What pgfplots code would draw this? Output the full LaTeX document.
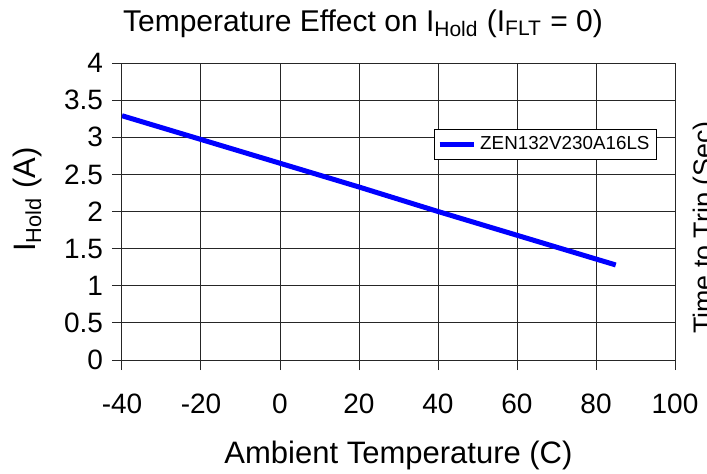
\documentclass[border=0pt]{standalone}
\usepackage{pgfplots}
\pgfplotsset{compat=1.18}
\usepackage{fontspec}
\setmainfont{Liberation Sans}

\begin{document}
\begin{tikzpicture}
\begin{axis}[
  scale only axis, width=276.5bp, height=148.5bp,
  xmin=-40, xmax=100, ymin=0, ymax=4,
  xtick={-40,-20,...,100}, ytick={0,0.5,...,4},
  grid=major, grid style={black!85, line width=0.5bp},
  axis line style={black!85, line width=0.5bp},
  tick style={black!85, line width=0.5bp},
  tick align=outside, major tick length=5bp,
  tick pos=left,
  /pgf/number format/assume math mode=true,
  ticklabel style={font=\fontsize{14bp}{16bp}\selectfont},
  xticklabel style={yshift=-8.5bp},
  yticklabel style={xshift=-1bp},
  title={Temperature Effect on I\textsubscript{Hold} (I\textsubscript{FLT} = 0)},
  title style={at={(axis description cs:0.4358,1.0673)}, anchor=base, font=\fontsize{15bp}{18bp}\selectfont},
  xlabel={Ambient Temperature (C)},
  xlabel style={at={(axis description cs:0.5,-0.3468)}, anchor=base, font=\fontsize{15.5bp}{18bp}\selectfont},
  ylabel={I\textsubscript{Hold} (A)},
  ylabel style={at={(axis description cs:-0.157,0.54)}, anchor=base, font=\fontsize{15.5bp}{18bp}\selectfont},
  legend style={at={(axis description cs:0.9675,0.7778)}, anchor=north east,
    font=\fontsize{9.4bp}{11bp}\selectfont, draw=black, line width=0.5bp,
    inner sep=1.5bp},
  legend image code/.code={\draw[#1] (0bp,0bp) -- (17bp,0bp);},
]
\addplot[blue, line width=2.5bp] coordinates {
  (-40,3.29) (-20,2.97) (0,2.65) (20,2.33) (40,2.00) (60,1.68) (80,1.36) (85,1.28)
};
\addlegendentry{ZEN132V230A16LS}
\end{axis}
\node[rotate=90, anchor=base west, font=\fontsize{13.4bp}{15bp}\selectfont] at (295bp,9.5bp) {Time to Trip (Sec)};
\pgfresetboundingbox
\path[use as bounding box] (-61bp,-57bp) rectangle (292.5bp,180bp);
\end{tikzpicture}
\end{document}
